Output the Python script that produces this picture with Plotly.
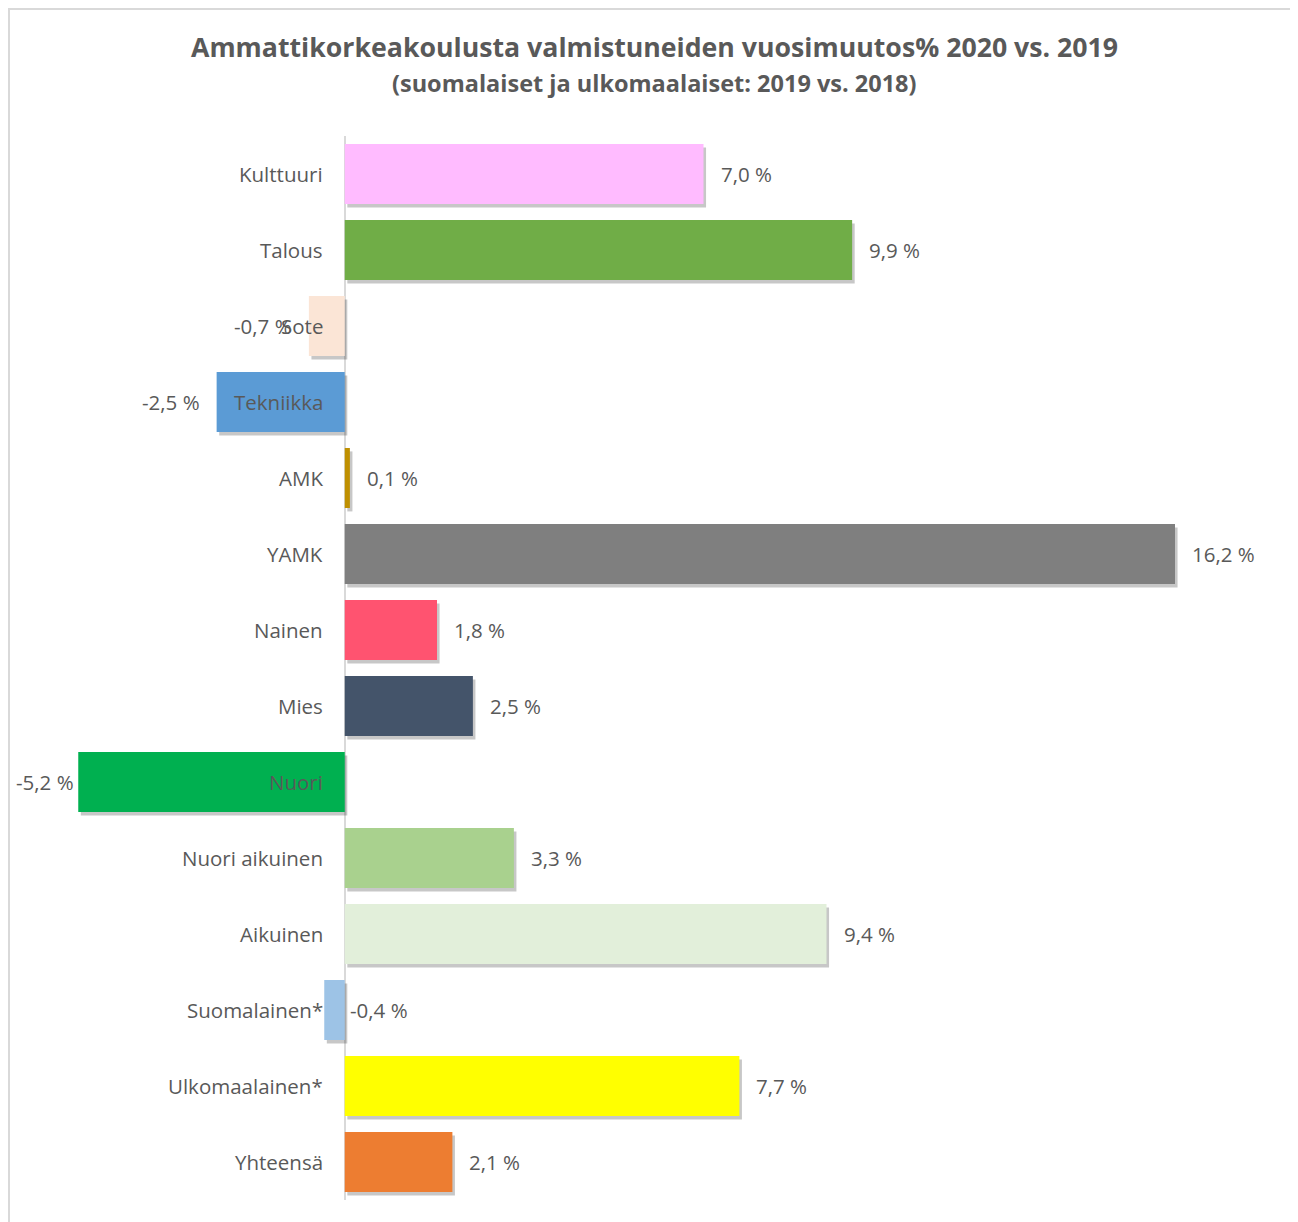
import plotly.graph_objects as go

# ----------------------------------------------------------------------------------------------------------------------
# Data
# ----------------------------------------------------------------------------------------------------------------------
categories = ["Kulttuuri", "Talous", "Sote", "Tekniikka", "AMK", "YAMK", "Nainen", "Mies", "Nuori",
              "Nuori aikuinen", "Aikuinen", "Suomalainen*", "Ulkomaalainen*", "Yhteensä"]
values = [7.0, 9.9, -0.7, -2.5, 0.1, 16.2, 1.8, 2.5, -5.2, 3.3, 9.4, -0.4, 7.7, 2.1]
colors = ["#FFBBFF", "#70AD47", "#FBE5D6", "#5B9BD5", "#BF9000", "#7F7F7F", "#FF5370", "#44546A",
          "#00B050", "#A9D18E", "#E2EFDA", "#9DC3E6", "#FFFF00", "#ED7D31"]
labels = [f"{v:.1f} %".replace(".", ",") for v in values]

title = "Ammattikorkeakoulusta valmistuneiden vuosimuutos% 2020 vs. 2019"
subtitle = "(suomalaiset ja ulkomaalaiset: 2019 vs. 2018)"

# ----------------------------------------------------------------------------------------------------------------------
# Layout constants (page has an 8px body margin, so the figure is drawn 8px smaller)
# ----------------------------------------------------------------------------------------------------------------------
PAGE_OFF = 8
W, H = 1290, 1214
L, R, T, B = 60, 82, 128, 22
FONT = "Open Sans, Lato, sans-serif"
GREY = "#595959"
BAR_W = 0.79
LBL = 20.5


def px_x(p):
    # reference-pixel x -> paper coordinate
    return (p - PAGE_OFF - L) / (W - L - R)


def px_y(p):
    # reference-pixel y -> paper coordinate
    return (H - B - (p - PAGE_OFF)) / (H - T - B)


fig = go.Figure()

# soft shadow under each bar (Excel style)
fig.add_trace(go.Bar(y=categories, x=values, base=0.05, orientation="h",
                     width=BAR_W, offset=-BAR_W / 2 + 0.045,
                     marker=dict(color="rgba(0,0,0,0.22)", line_width=0),
                     hoverinfo="skip", showlegend=False))

fig.add_trace(go.Bar(y=categories, x=values, orientation="h",
                     width=BAR_W, offset=-BAR_W / 2,
                     marker=dict(color=colors, line_width=0),
                     showlegend=False))

# category labels sit right at the zero line, over negative bars
for c in categories:
    fig.add_annotation(x=0, y=c, text=c, showarrow=False, xanchor="right", xshift=-20,
                       font=dict(family=FONT, size=LBL, color=GREY))

# value labels
for c, v, t in zip(categories, values, labels):
    if c == "Suomalainen*":
        fig.add_annotation(x=0, y=c, text=t, showarrow=False, xanchor="left", xshift=3,
                           font=dict(family=FONT, size=LBL, color=GREY))
    elif v < 0:
        shift = -2 if c == "Nuori" else -15
        fig.add_annotation(x=v, y=c, text=t, showarrow=False, xanchor="right", xshift=shift,
                           font=dict(family=FONT, size=LBL, color=GREY))
    else:
        fig.add_annotation(x=v, y=c, text=t, showarrow=False, xanchor="left", xshift=15,
                           font=dict(family=FONT, size=LBL, color=GREY))

# titles
fig.add_annotation(xref="paper", yref="paper", x=px_x(654), y=px_y(47), text=f"<b>{title}</b>",
                   showarrow=False, xanchor="center", yanchor="middle",
                   font=dict(family=FONT, size=26.7, color=GREY))
fig.add_annotation(xref="paper", yref="paper", x=px_x(654), y=px_y(83), text=f"<b>{subtitle}</b>",
                   showarrow=False, xanchor="center", yanchor="middle",
                   font=dict(family=FONT, size=23.5, color=GREY))

# outer chart frame (only top and left edges fall inside the picture)
fig.add_shape(type="rect", xref="paper", yref="paper", x0=px_x(9), x1=px_x(1340), y0=px_y(1260), y1=px_y(9),
              line=dict(color="#D9D9D9", width=2), layer="below")

fig.update_layout(
    width=W, height=H,
    margin=dict(l=L, r=R, t=T, b=B),
    paper_bgcolor="white", plot_bgcolor="white",
    barmode="overlay", bargap=0.21,
    font=dict(family=FONT, color=GREY),
)
fig.update_xaxes(range=[-5.4, 17.0], showgrid=False, showticklabels=False, ticks="",
                 zeroline=True, zerolinecolor="#D9D9D9", zerolinewidth=2, fixedrange=True)
fig.update_yaxes(autorange="reversed", showgrid=False, showticklabels=False, ticks="",
                 zeroline=False, fixedrange=True)

fig.write_html("out.html")
